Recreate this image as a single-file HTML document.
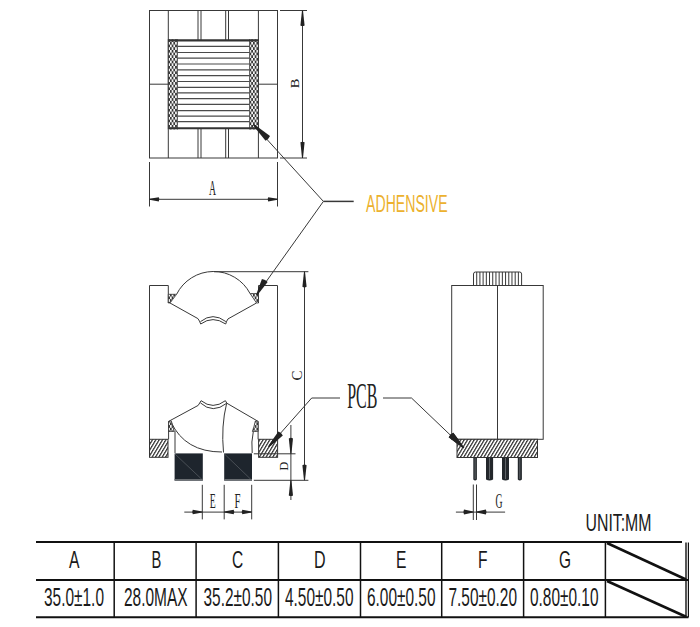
<!DOCTYPE html>
<html><head><meta charset="utf-8">
<style>
html,body{margin:0;padding:0;background:#fff;width:700px;height:627px;overflow:hidden}
svg{display:block}
text{font-family:"Liberation Sans",sans-serif}
.s{font-family:"Liberation Serif",serif}
</style></head><body>
<svg width="700" height="627" viewBox="0 0 700 627">
<defs>
<pattern id="chk" width="3.46" height="5.36" patternUnits="userSpaceOnUse" x="168.2" y="39.2">
<rect width="3.46" height="5.36" fill="#f4f4f4"/>
<rect x="0" y="0" width="1.73" height="2.68" fill="#383838"/>
<rect x="1.73" y="2.68" width="1.73" height="2.68" fill="#383838"/>
</pattern>
<pattern id="hat" width="3.95" height="6" patternUnits="userSpaceOnUse" patternTransform="scale(0.6 1) rotate(45)">
<rect width="3.95" height="6" fill="#fff"/>
<rect x="0" y="0" width="1.7" height="6" fill="#333"/>
</pattern>
<pattern id="hat2" width="3.95" height="6" patternUnits="userSpaceOnUse" patternTransform="scale(0.6 1) rotate(45)">
<rect width="3.95" height="6" fill="#fff"/>
<rect x="0" y="0" width="1.7" height="6" fill="#333"/>
</pattern>
</defs>
<g fill="none" stroke="#383838" stroke-width="1">
<rect x="149.5" y="10.5" width="128" height="147.5"/>
<line x1="168.3" y1="10.5" x2="168.3" y2="158"/>
<line x1="258.4" y1="10.5" x2="258.4" y2="158"/>
<line x1="198.0" y1="10.5" x2="198.0" y2="40"/>
<line x1="198.0" y1="128.5" x2="198.0" y2="158"/>
<line x1="201.0" y1="10.5" x2="201.0" y2="40"/>
<line x1="201.0" y1="128.5" x2="201.0" y2="158"/>
<line x1="225.7" y1="10.5" x2="225.7" y2="40"/>
<line x1="225.7" y1="128.5" x2="225.7" y2="158"/>
<line x1="228.5" y1="10.5" x2="228.5" y2="40"/>
<line x1="228.5" y1="128.5" x2="228.5" y2="158"/>
<line x1="149.5" y1="84.2" x2="168.3" y2="84.2"/><line x1="258.4" y1="84.2" x2="277.5" y2="84.2"/>
</g>
<rect x="168.3" y="39.2" width="9.1" height="90.2" fill="url(#chk)"/>
<rect x="249.6" y="39.2" width="8.8" height="90.2" fill="url(#chk)"/>
<g stroke="#383838" stroke-width="1"><line x1="168.3" y1="39.2" x2="168.3" y2="129.4"/><line x1="258.4" y1="39.2" x2="258.4" y2="129.4"/><line x1="177.4" y1="39.2" x2="177.4" y2="129.4" stroke-width="0.8"/><line x1="249.6" y1="39.2" x2="249.6" y2="129.4" stroke-width="0.8"/></g>
<g stroke="#4a4a4a" stroke-width="1.2">
<line x1="177.4" y1="46.3" x2="249.6" y2="46.3"/>
<line x1="177.4" y1="52.5" x2="249.6" y2="52.5"/>
<line x1="177.4" y1="58.2" x2="249.6" y2="58.2"/>
<line x1="177.4" y1="64.0" x2="249.6" y2="64.0"/>
<line x1="177.4" y1="69.9" x2="249.6" y2="69.9"/>
<line x1="177.4" y1="75.6" x2="249.6" y2="75.6"/>
<line x1="177.4" y1="81.5" x2="249.6" y2="81.5"/>
<line x1="177.4" y1="87.3" x2="249.6" y2="87.3"/>
<line x1="177.4" y1="92.9" x2="249.6" y2="92.9"/>
<line x1="177.4" y1="98.7" x2="249.6" y2="98.7"/>
<line x1="177.4" y1="104.4" x2="249.6" y2="104.4"/>
<line x1="177.4" y1="110.6" x2="249.6" y2="110.6"/>
<line x1="177.4" y1="116.2" x2="249.6" y2="116.2"/>
<line x1="177.4" y1="121.7" x2="249.6" y2="121.7"/>
</g>
<g stroke="#333" stroke-width="2.1"><line x1="168.3" y1="40.4" x2="258.4" y2="40.4"/><line x1="168.3" y1="128.3" x2="258.4" y2="128.3"/></g>
<g fill="none" stroke="#383838" stroke-width="1">
<line x1="280" y1="10.5" x2="307" y2="10.5"/>
<line x1="280" y1="158" x2="307" y2="158"/>
<line x1="302.5" y1="10.5" x2="302.5" y2="158"/>
<line x1="149.5" y1="162" x2="149.5" y2="206.5"/>
<line x1="277.5" y1="162" x2="277.5" y2="206.5"/>
<line x1="149.5" y1="199.3" x2="277.5" y2="199.3"/>
</g>
<path d="M302.00,10.50 L300.40,25.50 Q302.50,26.70 304.60,25.50 L303.00,10.50Z" fill="#222"/>
<path d="M303.00,158.00 L304.60,142.30 Q302.50,141.10 300.40,142.30 L302.00,158.00Z" fill="#222"/>
<path d="M149.50,199.80 L158.80,201.40 Q160.00,199.30 158.80,197.20 L149.50,198.80Z" fill="#222"/>
<path d="M277.50,198.80 L268.20,197.20 Q267.00,199.30 268.20,201.40 L277.50,199.80Z" fill="#222"/>
<text class="s" x="209" y="195.3" font-size="20" textLength="7" lengthAdjust="spacingAndGlyphs" fill="#222">A</text>
<text class="s" transform="translate(299.2,88.2) rotate(-90)" font-size="13.3" textLength="9.6" lengthAdjust="spacingAndGlyphs" fill="#222">B</text>
<text x="366.1" y="212.2" font-size="23.5" textLength="81.5" lengthAdjust="spacingAndGlyphs" fill="#ecb12e">ADHENSIVE</text>
<g fill="none" stroke="#383838" stroke-width="1">
<path d="M149.5,439.3 V285.5 H168.3 V303"/>
<path d="M277.5,439.3 V285.5 H258.5 V303"/>
<path d="M176.6,294.3 A41.3,41.3 0 0 1 250.1,293.6"/>
<path d="M170,303 L197.9,318.6 Q199.6,320.8 200.7,324 Q212.9,315.2 225.7,324 Q226.6,320.8 228,318.9 L256.5,303"/>
<path d="M200.5,321.6 Q212.9,311.7 225.9,321.6"/>
<path d="M168.6,439.3 V421.4 L198.2,405.4 L201.1,400.7 Q212.9,410.1 225.4,400.7 L226.8,403.2 L258.1,421.4 V439.3"/>
<path d="M200.4,402.9 Q212.9,414.2 226.8,403.2"/>
<path d="M171,422 Q185,452 222,452"/>
<path d="M226.6,403.5 Q221,426 223.5,452.5"/>
<path d="M175,431 V453"/>
<path d="M253.4,431 Q251,442 252.2,453"/>
<line x1="214" y1="271.7" x2="308.4" y2="271.7"/>
<line x1="304.5" y1="271.7" x2="304.5" y2="480"/>
<line x1="253.8" y1="480.3" x2="308.4" y2="480.3"/>
<line x1="290.9" y1="425" x2="290.9" y2="500"/>
<line x1="202.3" y1="484.8" x2="202.3" y2="519.4"/>
<line x1="224.2" y1="484.8" x2="224.2" y2="519.4"/>
<line x1="251.7" y1="484.8" x2="251.7" y2="519.4"/>
<line x1="184.3" y1="512.1" x2="251.7" y2="512.1"/>
</g>
<g stroke="#333" stroke-width="0.8">
<path d="M168.3,294.3 L176.6,294.3 L170,303 L168.3,303Z" fill="url(#chk)"/>
<path d="M258.5,293.6 L250.1,293.6 L256.5,303 L258.5,303Z" fill="url(#chk)"/>
<path d="M168.6,421.4 L171.4,421 Q172.5,426 174.3,431.4 L168.6,431.4Z" fill="url(#chk)"/>
<path d="M258.1,421.4 L255.3,421 Q254.3,426 252.4,431.4 L258.1,431.4Z" fill="url(#chk)"/>
</g>
<rect x="149.5" y="439.3" width="18.5" height="18" fill="url(#hat)" stroke="#333" stroke-width="1"/>
<rect x="258.6" y="439.3" width="19" height="18" fill="url(#hat)" stroke="#333" stroke-width="1"/>
<rect x="174.6" y="453.4" width="28.2" height="27.2" fill="#1e252d"/>
<rect x="224.2" y="453.4" width="27.8" height="27.2" fill="#1e252d"/>
<line x1="175" y1="454" x2="202.5" y2="480" stroke="#5a6066" stroke-width="0.7"/>
<line x1="224.5" y1="454" x2="251.5" y2="480" stroke="#5a6066" stroke-width="0.7"/>
<rect x="174.6" y="479" width="28.2" height="1.6" fill="#6a6e72"/>
<rect x="224.2" y="479" width="27.8" height="1.6" fill="#6a6e72"/>
<line x1="253.8" y1="453.8" x2="295.5" y2="453.8" stroke="#383838" stroke-width="1"/>
<g fill="none" stroke="#383838" stroke-width="1">
<line x1="323.4" y1="201.4" x2="254.3" y2="125.5"/>
<line x1="323.4" y1="201.4" x2="257.2" y2="294.2"/>
<line x1="323.4" y1="201.4" x2="353.7" y2="201.4" stroke-width="1.5"/>
<path d="M269.2,446 L311.7,398 H340"/>
<path d="M383,398 H411.5 L463.4,447.5"/>
</g>
<path d="M253.12,125.31 L265.56,140.66 Q268.67,139.13 270.04,135.94 L254.08,124.29Z" fill="#222"/>
<path d="M257.31,295.34 L267.64,282.08 Q265.39,279.45 261.96,278.92 L256.09,294.66Z" fill="#222"/>
<path d="M304.00,271.70 L302.40,286.80 Q304.50,288.00 306.60,286.80 L305.00,271.70Z" fill="#222"/>
<path d="M305.00,480.30 L306.60,465.20 Q304.50,464.00 302.40,465.20 L304.00,480.30Z" fill="#222"/>
<path d="M291.40,453.80 L293.00,438.40 Q290.90,437.20 288.80,438.40 L290.40,453.80Z" fill="#222"/>
<path d="M290.40,480.30 L288.80,495.50 Q290.90,496.70 293.00,495.50 L291.40,480.30Z" fill="#222"/>
<path d="M269.12,447.27 L282.83,435.51 Q281.40,432.61 278.37,431.49 L268.08,446.33Z" fill="#222"/>
<path d="M464.30,447.51 L453.32,432.72 Q450.16,434.14 448.68,437.28 L463.30,448.49Z" fill="#222"/>
<path d="M202.30,511.60 L192.80,509.85 Q191.60,512.10 192.80,514.35 L202.30,512.60Z" fill="#222"/>
<path d="M224.20,512.60 L233.70,514.35 Q234.90,512.10 233.70,509.85 L224.20,511.60Z" fill="#222"/>
<path d="M251.70,511.60 L242.30,509.85 Q241.10,512.10 242.30,514.35 L251.70,512.60Z" fill="#222"/>
<text class="s" transform="translate(301.6,380.4) rotate(-90)" font-size="14.2" textLength="10" lengthAdjust="spacingAndGlyphs" fill="#222">C</text>
<text class="s" transform="translate(287.5,470.5) rotate(-90)" font-size="12.5" textLength="8.8" lengthAdjust="spacingAndGlyphs" fill="#222">D</text>
<text class="s" x="209.8" y="507.6" font-size="20.5" textLength="6" lengthAdjust="spacingAndGlyphs" fill="#222">E</text>
<text class="s" x="234.5" y="507.6" font-size="20.5" textLength="6" lengthAdjust="spacingAndGlyphs" fill="#222">F</text>
<text class="s" x="347.2" y="408" font-size="36" textLength="30.2" lengthAdjust="spacingAndGlyphs" fill="#222">PCB</text>
<g fill="none" stroke="#383838" stroke-width="1">
<rect x="451.7" y="285.5" width="91.5" height="153.8"/>
<line x1="497.5" y1="285.5" x2="497.5" y2="439.3"/>
<path d="M473.5,285.5 V274 Q473.5,272 475.5,272 H519.6 Q521.6,272 521.6,274 V285.5"/>
<line x1="473.3" y1="484.5" x2="473.3" y2="520"/>
<line x1="476.5" y1="484.5" x2="476.5" y2="520"/>
<line x1="455.9" y1="512.1" x2="505.1" y2="512.1"/>
</g>
<g stroke="#383838" stroke-width="1">
<line x1="476.71" y1="272" x2="476.71" y2="285.5"/>
<line x1="479.91" y1="272" x2="479.91" y2="285.5"/>
<line x1="483.12" y1="272" x2="483.12" y2="285.5"/>
<line x1="486.33" y1="272" x2="486.33" y2="285.5"/>
<line x1="489.53" y1="272" x2="489.53" y2="285.5"/>
<line x1="492.74" y1="272" x2="492.74" y2="285.5"/>
<line x1="495.95" y1="272" x2="495.95" y2="285.5"/>
<line x1="499.15" y1="272" x2="499.15" y2="285.5"/>
<line x1="502.36" y1="272" x2="502.36" y2="285.5"/>
<line x1="505.57" y1="272" x2="505.57" y2="285.5"/>
<line x1="508.77" y1="272" x2="508.77" y2="285.5"/>
<line x1="511.98" y1="272" x2="511.98" y2="285.5"/>
<line x1="515.19" y1="272" x2="515.19" y2="285.5"/>
<line x1="518.39" y1="272" x2="518.39" y2="285.5"/>
</g>
<rect x="457" y="439.3" width="80.5" height="18.2" fill="url(#hat2)" stroke="#333" stroke-width="1"/>
<g fill="#23272b">
<path d="M473.3,457.5 H476.9 V479.5 Q475.1,481.5 473.3,479.5Z"/>
<path d="M486,457.5 H493.1 V479.5 Q489.5,481.5 486,479.5Z"/>
<path d="M502,457.5 H509 V479.5 Q505.5,481.5 502,479.5Z"/>
<path d="M517.8,457.5 H521.9 V479.5 Q519.8,481.5 517.8,479.5Z"/>
</g>
<g stroke="#8a8e92" stroke-width="0.6"><line x1="475.1" y1="458" x2="475.1" y2="479"/><line x1="489.5" y1="458" x2="489.5" y2="479"/><line x1="505.5" y1="458" x2="505.5" y2="479"/><line x1="519.8" y1="458" x2="519.8" y2="479"/></g>
<path d="M473.30,511.60 L464.00,509.60 Q462.80,512.10 464.00,514.60 L473.30,512.60Z" fill="#222"/>
<path d="M476.50,512.60 L485.90,514.60 Q487.10,512.10 485.90,509.60 L476.50,511.60Z" fill="#222"/>
<text class="s" x="495.6" y="507.6" font-size="21.5" textLength="7" lengthAdjust="spacingAndGlyphs" fill="#222">G</text>
<line x1="451" y1="435" x2="463.4" y2="447.5" stroke="#383838" stroke-width="1"/>
<path d="M464.30,447.51 L453.32,432.72 Q450.16,434.14 448.68,437.28 L463.30,448.49Z" fill="#222"/>
<g stroke="#111" stroke-width="2.1" fill="none">
<line x1="36" y1="542" x2="682" y2="542"/>
<line x1="36" y1="580" x2="688.5" y2="580"/>
<line x1="36" y1="617.3" x2="688.5" y2="617.3"/>
</g>
<g stroke="#111" stroke-width="1.5" fill="none">
<line x1="114.2" y1="542" x2="114.2" y2="617.3"/>
<line x1="196.1" y1="542" x2="196.1" y2="617.3"/>
<line x1="278.4" y1="542" x2="278.4" y2="617.3"/>
<line x1="360.5" y1="542" x2="360.5" y2="617.3"/>
<line x1="441.7" y1="542" x2="441.7" y2="617.3"/>
<line x1="523.6" y1="542" x2="523.6" y2="617.3"/>
<line x1="605.4" y1="542" x2="605.4" y2="617.3"/>
<line x1="686" y1="542.5" x2="686" y2="617.3" stroke-width="1.4"/>
<line x1="688.4" y1="542.5" x2="688.4" y2="617.3" stroke-width="1.2"/>
</g>
<g stroke="#111" stroke-width="2.6"><line x1="607" y1="543" x2="686" y2="579.5"/><line x1="607" y1="581" x2="686" y2="616.8"/></g>
<g fill="#1a1a1a" font-size="24">
<text x="585.5" y="531.3" textLength="66" lengthAdjust="spacingAndGlyphs">UNIT:MM</text>
<text x="69" y="567.9" textLength="10.5" lengthAdjust="spacingAndGlyphs">A</text>
<text x="151.5" y="567.9" textLength="9.8" lengthAdjust="spacingAndGlyphs">B</text>
<text x="232" y="567.9" textLength="11.2" lengthAdjust="spacingAndGlyphs">C</text>
<text x="314" y="567.9" textLength="11.6" lengthAdjust="spacingAndGlyphs">D</text>
<text x="396" y="567.9" textLength="10.4" lengthAdjust="spacingAndGlyphs">E</text>
<text x="478" y="567.9" textLength="9.5" lengthAdjust="spacingAndGlyphs">F</text>
<text x="559" y="567.9" textLength="12" lengthAdjust="spacingAndGlyphs">G</text>
<text x="44" y="605.9" font-size="24.9" textLength="60" lengthAdjust="spacingAndGlyphs">35.0±1.0</text>
<text x="124" y="605.9" font-size="24.9" textLength="63.6" lengthAdjust="spacingAndGlyphs">28.0MAX</text>
<text x="203.5" y="605.9" font-size="24.9" textLength="68.5" lengthAdjust="spacingAndGlyphs">35.2±0.50</text>
<text x="285" y="605.9" font-size="24.9" textLength="68.5" lengthAdjust="spacingAndGlyphs">4.50±0.50</text>
<text x="367" y="605.9" font-size="24.9" textLength="68.5" lengthAdjust="spacingAndGlyphs">6.00±0.50</text>
<text x="448.5" y="605.9" font-size="24.9" textLength="68.5" lengthAdjust="spacingAndGlyphs">7.50±0.20</text>
<text x="530" y="605.9" font-size="24.9" textLength="68.5" lengthAdjust="spacingAndGlyphs">0.80±0.10</text>
</g>
</svg>
</body></html>
